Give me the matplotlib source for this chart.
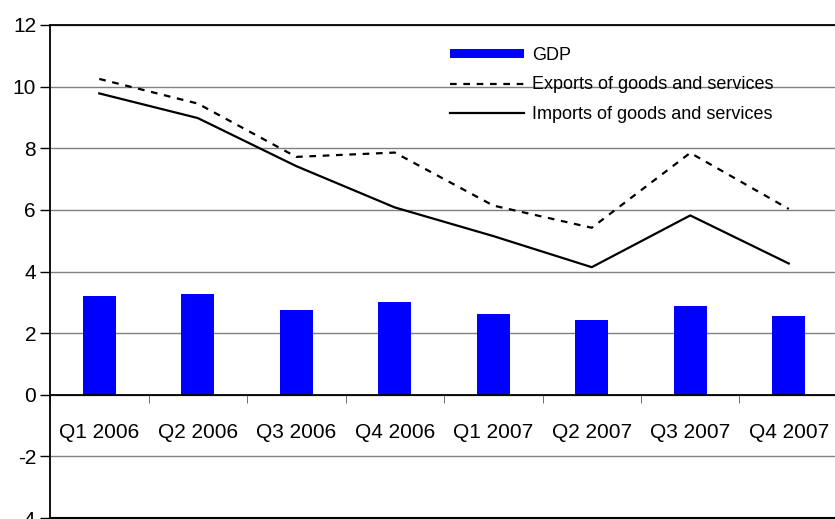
import numpy as np
import matplotlib.pyplot as plt

plt.rcParams['font.family'] = ['Liberation Sans', 'DejaVu Sans']
plt.rcParams['axes.unicode_minus'] = False

quarters = ['Q1 2006', 'Q2 2006', 'Q3 2006', 'Q4 2006',
            'Q1 2007', 'Q2 2007', 'Q3 2007', 'Q4 2007']
gdp = [3.2, 3.27, 2.75, 3.0, 2.62, 2.43, 2.88, 2.56]
exports = [10.25, 9.45, 7.72, 7.86, 6.14, 5.42, 7.85, 6.03]
imports = [9.78, 8.98, 7.42, 6.08, 5.15, 4.14, 5.82, 4.26]

x = np.arange(len(quarters))

fig = plt.figure(figsize=(8.35, 5.19), dpi=100)
ax = fig.add_axes([50 / 835, 1 / 519, 788 / 835, 493 / 519])

bars = ax.bar(x, gdp, width=0.33, color='#0000FF', zorder=2, label='GDP')
exp_line, = ax.plot(x, exports, color='black', lw=1.6, ls=(0, (3, 3)), zorder=3,
                    label='Exports of goods and services')
imp_line, = ax.plot(x, imports, color='black', lw=1.6, zorder=3,
                    label='Imports of goods and services')

ax.set_xlim(-0.5, len(quarters) - 0.5)
ax.set_ylim(-4, 12)
ax.set_yticks(np.arange(-4, 13, 2))
ax.yaxis.grid(True, color='#808080', lw=1)
ax.set_axisbelow(True)

# category axis sits on the zero line, ticks between categories
ax.spines['bottom'].set_position(('data', 0))
ax.axhline(-4, color='black', lw=1.5, clip_on=False)
ax.set_xticks(x)
ax.set_xticklabels(quarters)
ax.set_xticks(np.arange(len(quarters) + 1) - 0.5, minor=True)
ax.tick_params(axis='x', which='major', length=0, pad=20, labelsize=15)
ax.tick_params(axis='x', which='minor', length=6, direction='out', color='#555555')
ax.tick_params(axis='y', length=7, width=1, pad=3, labelsize=15)
for s in ax.spines.values():
    s.set_color('black')
    s.set_linewidth(1.3)

ax.legend(handles=[bars, exp_line, imp_line],
          loc='upper left', bbox_to_anchor=(450 / 835, 1 - 47 / 519),
          bbox_transform=fig.transFigure, frameon=False, fontsize=13,
          handlelength=4.1, handleheight=0.45, handletextpad=0.45,
          borderpad=0, borderaxespad=0, labelspacing=0.68)

fig.savefig('out.png', dpi=100)
